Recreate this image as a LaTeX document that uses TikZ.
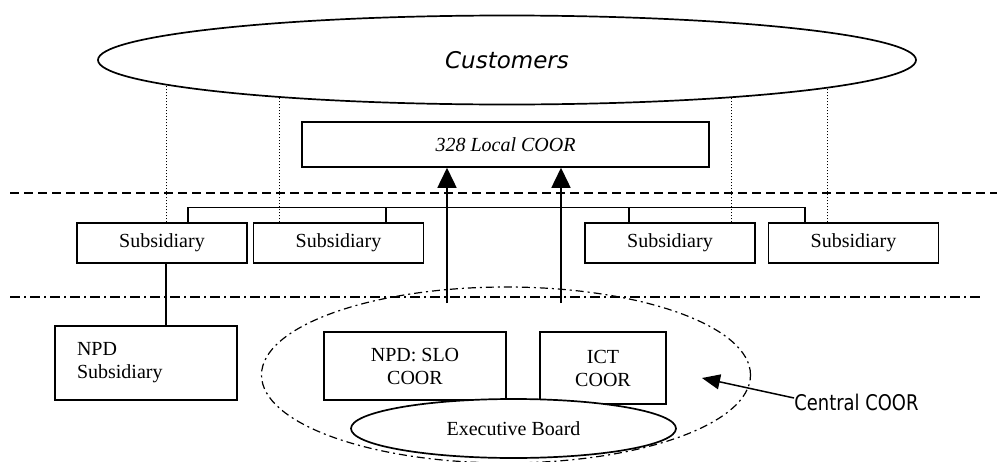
\documentclass[tikz,border=0pt]{standalone}
\usepackage{fontspec}
\setmainfont{Liberation Serif}
\newfontfamily\custfont{DejaVu Sans}
\newfontfamily\calloutfont[FakeStretch=0.83]{DejaVu Sans}
\usetikzlibrary{shapes.geometric, arrows.meta, backgrounds}

\begin{document}
\begin{tikzpicture}[x=0.5pt, y=-0.5pt,
    unit/.style={draw, line width=0.75pt, fill=white, minimum width=85pt, minimum height=20pt,
                 inner sep=0pt, font=\fontsize{10}{12}\selectfont},
    coor/.style={draw, line width=0.75pt, fill=white, inner sep=0pt, align=center,
                 font=\fontsize{10}{11.5}\selectfont},
    bubble/.style={draw, ellipse, line width=0.85pt, fill=white, inner sep=0pt},
    border/.style={line width=0.7pt, dash pattern=on 4.5pt off 2.5pt},
    divider/.style={line width=0.7pt, dash pattern=on 5pt off 2pt on 1pt off 2pt},
    dotline/.style={line width=0.5pt, dash pattern=on 0.5pt off 1pt},
    arrow/.style={-{Triangle[length=10pt, width=9.5pt]}, line width=0.75pt},
    link/.style={line width=0.75pt}
]
\useasboundingbox (0,0) rectangle (997,461);

\node[bubble, minimum width=409pt, minimum height=44.5pt,
      font=\custfont\itshape\fontsize{11.5}{13}\selectfont] (cust) at (507,60) {Customers};
\node[coor, minimum width=203.5pt, minimum height=22.5pt, font=\itshape\fontsize{10}{12}\selectfont]
      (local) at (505.5,144.5) {328 Local COOR};

\node[unit] (s1) at (162,243) {Subsidiary};
\node[unit] (s2) at (338.5,243) {Subsidiary};
\node[unit] (s3) at (670,243) {Subsidiary};
\node[unit] (s4) at (853.5,243) {Subsidiary};

\node[coor, align=left, text width=69pt, inner xsep=11pt, minimum height=37pt]
      (npd) at (146,363) {NPD\\Subsidiary};

\node[draw, ellipse, inner sep=0pt, minimum width=244.5pt, minimum height=88pt,
      line width=0.6pt, dash pattern=on 4pt off 2pt on 1pt off 2pt] (central) at (506,375) {};
\node[coor, minimum width=91pt, minimum height=34pt] (slo) at (415,366) {NPD: SLO\\COOR};
\node[coor, minimum width=63pt, minimum height=36pt] (ict) at (603,368) {ICT\\COOR};
\node[bubble, minimum width=162.5pt, minimum height=29.5pt, font=\fontsize{10}{12}\selectfont]
      (board) at (513.5,428.5) {Executive Board};

\node[anchor=west, inner sep=0pt, font=\calloutfont\fontsize{10.8}{13}\selectfont]
      (lbl) at (794,402) {Central COOR};
\coordinate (tip) at (702,378);

\coordinate (d1) at (10,193);
\coordinate (d2) at (997,193);
\coordinate (e1) at (10,297);
\coordinate (e2) at (980,297);
\coordinate (up1) at (447,303);
\coordinate (up2) at (561,303);

\begin{pgfonlayer}{background}
\draw[dotline] ([xshift=2pt]s1.north) -- ([xshift=2pt]s1.north |- cust.center);
\draw[dotline] ([xshift=13.5pt]s2.north west) -- ([xshift=13.5pt]s2.north west |- cust.center);
\draw[dotline] ([xshift=-12pt]s3.north east) -- ([xshift=-12pt]s3.north east |- cust.center);
\draw[dotline] ([xshift=30pt]s4.north west) -- ([xshift=30pt]s4.north west |- cust.center);
\end{pgfonlayer}

\draw[border] (d1) -- (d2);
\draw[divider] (e1) -- (e2);

\draw[link] ([xshift=13pt]s1.north) -- ++(0pt,7.5pt) -| ([xshift=-24.25pt]s4.north);
\draw[link] ([xshift=23.75pt]s2.north) -- ++(0pt,7.5pt);
\draw[link] ([xshift=-20.5pt]s3.north) -- ++(0pt,7.5pt);
\draw[link] ([xshift=2pt]s1.south) -- ([xshift=2pt]s1.south |- npd.north);

\draw[arrow] (up1) -- (up1 |- local.south);
\draw[arrow] (up2) -- (up2 |- local.south);
\draw[-{Triangle[length=9pt, width=7.5pt]}, line width=0.75pt] ([yshift=2pt]lbl.west) -- (tip);
\end{tikzpicture}
\end{document}
